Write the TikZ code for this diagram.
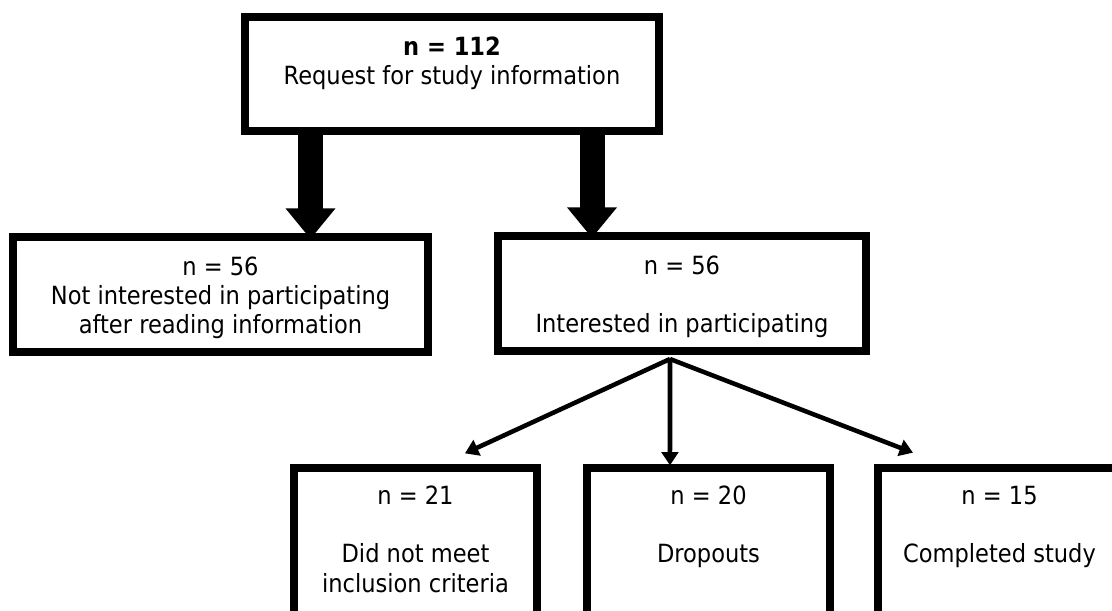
\documentclass[tikz,border=0pt]{standalone}
\usepackage{fontspec}
\IfFontExistsTF{DejaVu Sans Condensed}{\setmainfont{DejaVu Sans Condensed}}{\setmainfont{DejaVu Sans}}
\usetikzlibrary{arrows.meta}
\newcommand{\lead}[1]{\rule{0pt}{#1}}

\begin{document}
\begin{tikzpicture}[x=0.75pt,y=0.75pt,yscale=-1,xscale=1,
    box/.style={draw, line width=6pt, inner sep=0pt, align=center,
      font=\fontsize{18.8}{22}\selectfont},
    fatarrow/.style={line width=18.75pt, -{Triangle[width=36pt,length=23pt]}},
    thinarrow/.style={line width=3.4pt, -{Triangle[width=12.5pt,length=10pt]}}]
        \useasboundingbox (0,0) rectangle (1112,610);
        \clip (0,0) rectangle (1112,610);

        %Shape: Rectangle [top]
        \node[box, minimum width=310.5pt, minimum height=85.5pt] (top) at (452,74)
          {\lead{23pt}\textbf{n = 112}\\Request for study information\\\strut};
        %Shape: Rectangle [second row]
        \node[box, minimum width=311.25pt, minimum height=86.25pt] (notint) at (220.5,294.5)
          {\lead{19pt}n = 56\\Not interested in participating\\after reading information};
        \node[box, minimum width=276pt, minimum height=86.25pt] (inter) at (682,293.5)
          {\lead{19pt}n = 56\\\strut\\Interested in participating};
        %Shape: Rectangle [bottom row]
        \node[box, minimum width=182.25pt, minimum height=129pt] (crit) at (415.5,554)
          {\lead{20pt}n = 21\\\strut\\Did not meet\\inclusion criteria\\\strut};
        \node[box, minimum width=182.25pt, minimum height=129pt] (drop) at (708.5,554)
          {\lead{20pt}n = 20\\\strut\\Dropouts\\\strut\\\strut};
        \node[box, minimum width=182.25pt, minimum height=129pt] (done) at (999.5,554)
          {\lead{20pt}n = 15\\\strut\\Completed study\\\strut\\\strut};

        % Fat arrows (yshift is flipped by yscale=-1)
        \path ([xshift=67.5pt,yshift=4.5pt]notint.north) coordinate (tipA);
        \path ([xshift=-67.5pt,yshift=4.5pt]inter.north) coordinate (tipB);
        \draw[fatarrow] (top.south -| tipA) -- (tipA);
        \draw[fatarrow] (top.south -| tipB) -- (tipB);

        % Thin arrows
        \path ([xshift=-9pt,yshift=3pt]inter.south) coordinate (fork);
        \path ([xshift=37.1pt,yshift=-8pt]crit.north) coordinate (tipC);
        \path ([xshift=-28.9pt,yshift=1pt]drop.north) coordinate (tipD);
        \path ([xshift=-64.9pt,yshift=-8.5pt]done.north) coordinate (tipE);
        \draw[thinarrow] (fork) -- (tipC);
        \draw[thinarrow] (fork) -- (tipD);
        \draw[thinarrow] (fork) -- (tipE);

    \end{tikzpicture}
\end{document}
